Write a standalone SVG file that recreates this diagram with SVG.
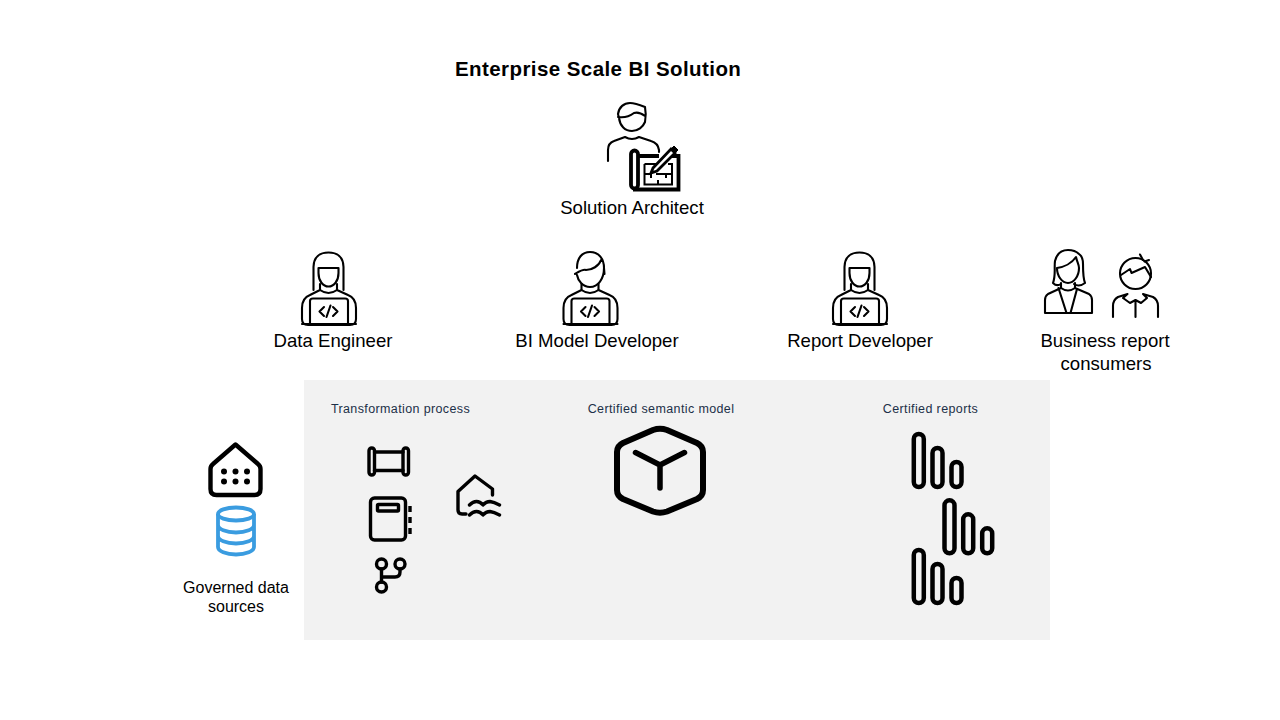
<svg xmlns="http://www.w3.org/2000/svg" xmlns:xlink="http://www.w3.org/1999/xlink" width="1280" height="720" viewBox="0 0 1280 720">
<style>
text{font-family:"Liberation Sans",Arial,sans-serif;fill:#000}
.t{font-size:18.600px;text-anchor:middle}
.s{font-size:12.500px;letter-spacing:.38px;fill:#1c3048;text-anchor:middle}
.g{font-size:16px;text-anchor:middle}
.l2{fill:none;stroke:#000;stroke-width:2.100;stroke-linecap:round;stroke-linejoin:round}
.l3{fill:none;stroke:#000;stroke-width:3.400;stroke-linecap:round;stroke-linejoin:round}
.l4{fill:none;stroke:#000;stroke-width:4.500;stroke-linecap:round;stroke-linejoin:round}
</style>
<defs>
<g id="laptop">
<path class="l2" d="M302 308V319Q302 325 308 325H350Q356 325 356 319V308Q356 298 348 295L337 290V284M320 284V290L310 295Q302 298 302 308"/>
<path class="l2" d="M310 324V301Q310 298.500 313 298.500H345Q348 298.500 348 301V324M302 324H356"/>
<path class="l2" d="M324 307L319.500 311.500L324 316M333 307L337.500 311.500L333 316M330.500 305.500L326.500 317"/>
<path class="l2" d="M320 290Q328.500 296 337 290"/>
</g>
<g id="bars">
<rect class="l4" x="913.800" y="434" width="10" height="53" rx="5"/>
<rect class="l4" x="932.500" y="448" width="10" height="39" rx="5"/>
<rect class="l4" x="951.500" y="462" width="10" height="25" rx="5"/>
</g>
</defs>
<rect id="panel" x="304" y="380" width="746" height="260" fill="#f2f2f2"/>
<text x="455" y="76" style="font-size:20.500px;font-weight:700;letter-spacing:.42px">Enterprise Scale BI Solution</text>
<g id="solution-architect">
<path class="l2" d="M618 114C619 107 624 103 630 103C635 103 640 105 645 107C646 112 646 117 645 122C643 127 638 131 632 131C625 131 620 126 619 118ZM618 117C624 118 630 116 634 113C637 112 641 113 645 116"/>
<path class="l2" d="M608 161V150Q608 143 614 141L625 137Q632 141 639 137L651 141Q658 143 659 150V152"/>
<path d="M638 156H659M671 156H678.500V189.500H633" fill="none" stroke="#000" stroke-width="3.800"/>
<path d="M631 185V154a3.500 3.500 0 0 1 7 0V185a3.500 3.500 0 0 1 -7 0Z" fill="none" stroke="#000" stroke-width="3.800"/>
<path d="M644.500 164V184.500H672V164H668M644.500 164H656M644.500 174H651M656 174H672M658 168V164M658 180V184.500M651 174V178M666 174V178" fill="none" stroke="#000" stroke-width="2"/>
<path d="M653 168L671 149L675 153L657 171L651 173Z" fill="#fff" stroke="#000" stroke-width="2.800"/>
<path d="M671 149L674 146L678 150L675 153Z" fill="#000" stroke="#000"/>
<text class="t" x="632" y="214">Solution Architect</text>
</g>
<g id="data-engineer">
<path class="l2" d="M313.500 290V267C313.500 257 320 252.500 328.500 252.500C337 252.500 343.500 257 343.500 267V290"/>
<path class="l2" d="M318.500 268H338.500V273C338.500 281 334 286.500 328.500 286.500C323 286.500 318.500 281 318.500 273Z"/>
<use xlink:href="#laptop"/>
<text class="t" x="333" y="347">Data Engineer</text>
</g>
<g id="bi-model-developer">
<path class="l2" d="M577 268C577 258 582 252 590 252C599 252 604 259 604 268C604 279 598 287 590 287C583 287 578 281 577 275M575 274C580 271 583 269 586 270C592 270 599 266 601 260M604 268L604.500 274"/>
<use xlink:href="#laptop" x="261.500"/>
<text class="t" x="597" y="347">BI Model Developer</text>
</g>
<g id="report-developer">
<path class="l2" d="M844.500 290V267C844.500 257 851 252.500 859.500 252.500C868 252.500 874.500 257 874.500 267V290"/>
<path class="l2" d="M849.500 268H869.500V273C869.500 281 865 286.500 859.500 286.500C854 286.500 849.500 281 849.500 273Z"/>
<use xlink:href="#laptop" x="531"/>
<text class="t" x="860" y="347">Report Developer</text>
</g>
<g id="business-report-consumers">
<path class="l2" d="M1053 283C1056 275 1054 268 1055 261C1057 253 1062 250 1068 250C1072 250 1076 251 1079 254C1082 256 1083 260 1083 264C1083 272 1083 278 1085 283C1081 286 1077 286 1074 284M1061 284C1058 286 1055 285 1053 283"/>
<path class="l2" d="M1057 268C1064 267 1072 263 1076 257C1077 262 1079 264 1079 268C1079 276 1074 283 1068 283C1062 283 1057 276 1057 268Z"/>
<path class="l2" d="M1061 283V288L1048 294Q1045 296 1045 300V313H1092V300Q1092 296 1089 294L1075 288V283M1061 288Q1068 293 1075 288"/>
<path class="l2" d="M1058.500 288L1066.500 313M1077 289L1070.500 313"/>
<circle class="l2" cx="1135.500" cy="273.500" r="15.500"/>
<path class="l2" d="M1121 275L1130 269L1131.500 273L1145 267L1151 277"/>
<path class="l2" d="M1140 254.500L1143 260M1149 260L1144.500 261.500"/>
<path class="l2" d="M1113 317V306Q1113 300 1118 297L1127.500 294M1143 294L1153 297Q1158 300 1158 306V317M1135.500 300V317M1127.500 294L1123 298L1130 303L1135.500 300L1141 303L1147 298L1143 294"/>
<text class="t" x="1105" y="347">Business report</text>
<text class="t" x="1106" y="370">consumers</text>
</g>
<g id="governed-data-sources">
<path d="M235.500 444.500L258 464Q260.500 466 260.500 469V489Q260.500 495 254.500 495H216.500Q210.500 495 210.500 489V469Q210.500 466 213 464Z" fill="none" stroke="#000" stroke-width="4.400" stroke-linejoin="round"/>
<g fill="#000"><circle cx="224" cy="471.500" r="3"/><circle cx="235.500" cy="471.500" r="3"/><circle cx="247" cy="471.500" r="3"/><circle cx="224" cy="481.500" r="3"/><circle cx="235.500" cy="481.500" r="3"/><circle cx="247" cy="481.500" r="3"/></g>
<g fill="none" stroke="#3a9ce0" stroke-width="3.800">
<ellipse cx="236" cy="514" rx="18" ry="6.500"/>
<path d="M218 514V547C218 551 226 554.500 236 554.500C246 554.500 254 551 254 547V514M218 525C218 529 226 532.500 236 532.500C246 532.500 254 529 254 525M218 536C218 540 226 543.500 236 543.500C246 543.500 254 540 254 536"/>
</g>
<text class="g" x="236" y="593">Governed data</text>
<text class="g" x="236" y="612">sources</text>
</g>
<g id="transformation-process">
<text class="s" x="400.500" y="413">Transformation process</text>
<rect class="l3" x="369" y="448" width="5.500" height="27" rx="2.700"/>
<rect class="l3" x="403" y="448" width="5.500" height="27" rx="2.700"/>
<path class="l3" d="M374.500 452H403M374.500 470.500H403"/>
<rect class="l3" x="370.500" y="498" width="35" height="42" rx="4"/>
<rect class="l3" x="377.500" y="504.500" width="21" height="6.500" rx="1"/>
<path d="M410 506V512M410 517V523M410 528V534" fill="none" stroke="#000" stroke-width="3.400"/>
<circle class="l3" cx="381.500" cy="564" r="5"/><circle class="l3" cx="400" cy="564" r="5"/><circle class="l3" cx="381.500" cy="587" r="5"/>
<path class="l3" d="M381.500 569V582M400 569V572Q400 577 395 577H381.500"/>
<path class="l3" d="M492.500 495V489L475 476L458 491.500V510Q458 514 462 514H466"/>
<path class="l3" d="M469.500 505Q473 501.500 476.500 501.500Q480 501.500 483 505Q486 501.500 490 501.500Q494 502 499.500 505M469.500 515Q473 511.500 476.500 511.500Q480 511.500 483 515Q486 511.500 490 511.500Q494 512 499.500 515"/>
</g>
<g id="certified-semantic-model">
<text class="s" x="661" y="413">Certified semantic model</text>
<path d="M653 430Q660 427.500 667 430L697 443Q703 446 703 452V490Q703 496 697 499L667 511.500Q660 514 653 511.500L623 499Q617 496 617 490V452Q617 446 623 443Z" fill="none" stroke="#000" stroke-width="6" stroke-linejoin="round"/>
<path d="M635.500 452.500L660 465L684.500 452.500M660 465V488" fill="none" stroke="#000" stroke-width="5.500" stroke-linecap="round" stroke-linejoin="round"/>
</g>
<g id="certified-reports">
<text class="s" x="930.500" y="413">Certified reports</text>
<use xlink:href="#bars"/>
<use xlink:href="#bars" x="30.700" y="66.300"/>
<use xlink:href="#bars" y="116"/>
</g>
</svg>
